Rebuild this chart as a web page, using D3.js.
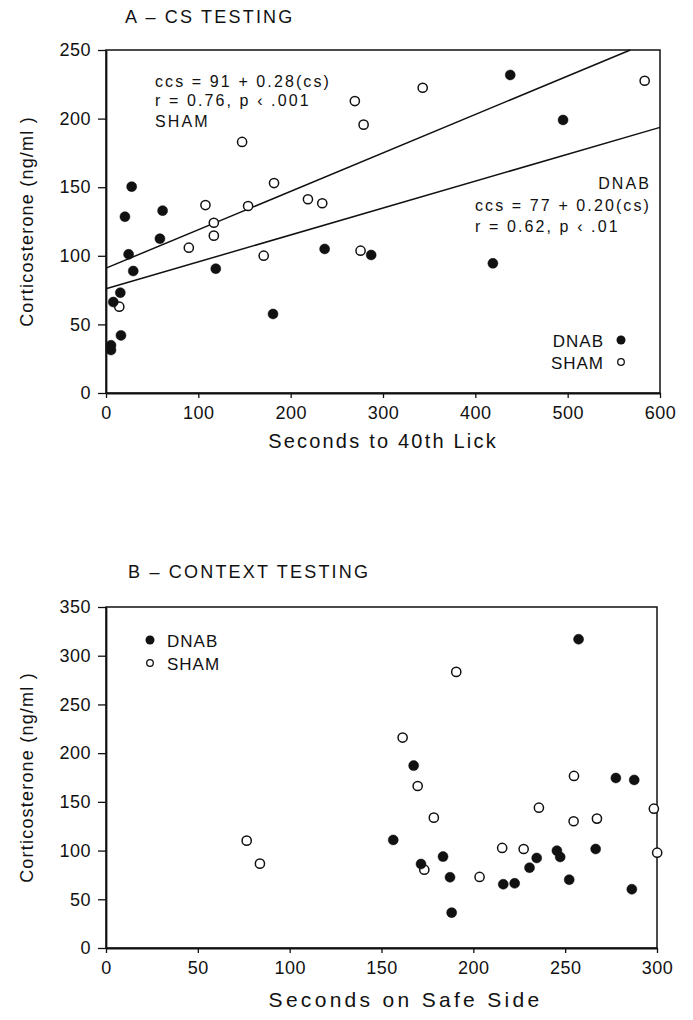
<!DOCTYPE html>
<html>
<head>
<meta charset="utf-8">
<script src="https://cdn.jsdelivr.net/npm/d3@7"></script>
<style>
  body { margin: 0; background: #fff; }
  svg text { font-family: "Liberation Sans", Arial, sans-serif; fill: #111; }
</style>
</head>
<body>
<div id="chart-area"></div>
<script>
/* data */

// A - CS testing: [seconds to 40th lick, corticosterone]
const csDnab = [
  [27.8, 150.4], [61.3, 132.9], [20.5, 128.5], [58.4, 112.5], [24.5, 101.1],
  [29.5, 88.9], [118.9, 90.6], [236.8, 105.0], [287.2, 100.6], [15.5, 73.1],
  [7.9, 66.3], [180.9, 57.6], [16.2, 42.0], [5.4, 34.8], [5.4, 31.3],
  [437.8, 231.8], [495.0, 199.0], [419.0, 94.5]
]
const csSham = [
  [269.5, 212.8], [279.0, 195.6], [147.4, 183.0], [182.0, 153.0], [107.7, 137.0],
  [153.9, 136.3], [218.7, 141.2], [234.2, 138.3], [116.8, 124.1], [116.8, 114.7],
  [89.7, 105.9], [170.8, 100.1], [275.7, 103.7], [14.4, 62.9], [343.0, 222.5],
  [583.4, 227.6]
]
// regression fits [intercept, slope]
const csShamFit = [91, 0.28]
const csDnabFit = [76, 0.196]

// B - context testing: [seconds on safe side, corticosterone]
const ctxDnab = [
  [156.4, 110.9], [257.3, 316.9], [167.5, 187.2], [183.5, 93.8], [171.5, 86.2],
  [187.3, 72.6], [188.2, 36.3], [216.3, 65.4], [222.5, 66.4], [230.6, 82.4],
  [234.5, 92.4], [245.5, 99.9], [247.3, 93.4], [252.2, 70.1], [266.6, 101.6],
  [277.6, 174.5], [287.6, 172.5], [286.3, 60.3]
]
const ctxSham = [
  [76.6, 110.2], [83.8, 86.6], [190.7, 283.4], [161.5, 216.0], [169.7, 166.3],
  [178.5, 133.8], [173.3, 80.4], [203.4, 72.9], [215.7, 102.7], [227.4, 101.6],
  [235.7, 144.0], [254.8, 176.6], [254.6, 130.1], [267.3, 132.8], [298.3, 143.0],
  [300.1, 97.8]
]

const csXTicks = [0, 100, 200, 300, 400, 500, 600]
const csYTicks = [0, 50, 100, 150, 200, 250]
const ctxXTicks = [0, 50, 100, 150, 200, 250, 300]
const ctxYTicks = [0, 50, 100, 150, 200, 250, 300, 350]

/* svg */

const svg = d3.select("#chart-area").append("svg")
  .attr("width", 693)
  .attr("height", 1020)

// draws one framed scatter panel, returns its scales and group
function panel(opts) {
  const x = d3.scaleLinear().domain(opts.xDomain).range([opts.left, opts.right])
  const y = d3.scaleLinear().domain(opts.yDomain).range([opts.bottom, opts.top])
  const g = svg.append("g")

  // frame
  g.append("rect")
    .attr("x", opts.left).attr("y", opts.top)
    .attr("width", opts.right - opts.left)
    .attr("height", opts.bottom - opts.top)
    .attr("fill", "none")
    .attr("stroke", "#111")
    .attr("stroke-width", 1.5)

  const xAxis = g.append("g")
    .attr("transform", `translate(0, ${opts.bottom})`)
    .call(d3.axisBottom(x).tickValues(opts.xTicks).tickSize(5).tickPadding(8).tickSizeOuter(0))
  const yAxis = g.append("g")
    .attr("transform", `translate(${opts.left}, 0)`)
    .call(d3.axisLeft(y).tickValues(opts.yTicks).tickSize(8).tickPadding(7).tickSizeOuter(0))

  ;[xAxis, yAxis].forEach(a => {
    a.select(".domain").attr("stroke", "#111").attr("stroke-width", 1.8)
    a.selectAll(".tick line").attr("stroke", "#111").attr("stroke-width", 1.3)
    a.selectAll(".tick text")
      .style("font-size", "18px")
      .style("letter-spacing", "0.5px")
      .attr("fill", "#111")
  })

  // titles
  g.append("text")
    .attr("x", opts.titleX).attr("y", opts.titleY)
    .style("font-size", "18px")
    .style("letter-spacing", "2.2px")
    .text(opts.title)

  g.append("text")
    .attr("x", (opts.left + opts.right) / 2 + opts.xLabelShift)
    .attr("y", opts.xLabelY)
    .attr("text-anchor", "middle")
    .style("font-size", opts.xLabelSize)
    .style("letter-spacing", opts.xLabelSpacing)
    .text(opts.xLabel)

  g.append("text")
    .attr("transform", `translate(33, ${(opts.top + opts.bottom) / 2}) rotate(-90)`)
    .attr("text-anchor", "middle")
    .style("font-size", "18px")
    .style("letter-spacing", "1.2px")
    .text("Corticosterone (ng/ml )")

  return { x, y, g }
}

function dots(p, data, filled) {
  p.g.append("g").selectAll("circle")
    .data(data)
    .enter().append("circle")
    .attr("cx", d => p.x(d[0]))
    .attr("cy", d => p.y(d[1]))
    .attr("r", filled ? 5 : 4.6)
    .attr("fill", filled ? "#111" : "#fff")
    .attr("stroke", "#111")
    .attr("stroke-width", filled ? 0.5 : 1.5)
}

/* panel A */

const A = panel({
  left: 106, right: 660, top: 50, bottom: 393,
  xDomain: [0, 600], yDomain: [0, 250],
  xTicks: csXTicks, yTicks: csYTicks,
  title: "A \u2013 CS TESTING", titleX: 125, titleY: 23,
  xLabel: "Seconds to 40th Lick", xLabelY: 448, xLabelShift: 0,
  xLabelSize: "20px", xLabelSpacing: "2.2px"
})

// regression lines, clipped at the top of the frame
function fitLine(p, fit, xMax) {
  const x1 = Math.min(xMax, (p.y.domain()[1] - fit[0]) / fit[1])
  p.g.append("path")
    .datum([0, x1])
    .attr("d", d3.line().x(v => p.x(v)).y(v => p.y(fit[0] + fit[1] * v)))
    .attr("fill", "none")
    .attr("stroke", "#111")
    .attr("stroke-width", 1.5)
}
fitLine(A, csShamFit, 600)
fitLine(A, csDnabFit, 600)

dots(A, csSham, false)
dots(A, csDnab, true)

const annA = A.g.append("g").style("font-size", "16px").style("letter-spacing", "2.1px")
annA.append("text").attr("x", 155).attr("y", 87).text("ccs = 91 + 0.28(cs)")
annA.append("text").attr("x", 155).attr("y", 106).text("r = 0.76, p \u2039 .001")
annA.append("text").attr("x", 155).attr("y", 127).text("SHAM")
annA.append("text").attr("x", 651).attr("y", 189).attr("text-anchor", "end").text("DNAB")
annA.append("text").attr("x", 475).attr("y", 211).text("ccs = 77 + 0.20(cs)")
annA.append("text").attr("x", 475).attr("y", 232).text("r = 0.62, p \u2039 .01")

// legend A
const legA = A.g.append("g").style("font-size", "17px").style("letter-spacing", "1px")
legA.append("text").attr("x", 604).attr("y", 347).attr("text-anchor", "end").text("DNAB")
legA.append("text").attr("x", 604).attr("y", 369).attr("text-anchor", "end").text("SHAM")
legA.append("circle").attr("cx", 621).attr("cy", 340).attr("r", 4.5).attr("fill", "#111")
legA.append("circle").attr("cx", 621).attr("cy", 362).attr("r", 3.3)
  .attr("fill", "#fff").attr("stroke", "#111").attr("stroke-width", 1.3)

/* panel B */

const B = panel({
  left: 106, right: 657, top: 607, bottom: 948,
  xDomain: [0, 300], yDomain: [0, 350],
  xTicks: ctxXTicks, yTicks: ctxYTicks,
  title: "B \u2013 CONTEXT TESTING", titleX: 128, titleY: 578,
  xLabel: "Seconds on Safe Side", xLabelY: 1007, xLabelShift: 24,
  xLabelSize: "21px", xLabelSpacing: "3.3px"
})

dots(B, ctxSham, false)
dots(B, ctxDnab, true)

const legB = B.g.append("g").style("font-size", "17px").style("letter-spacing", "1px")
legB.append("circle").attr("cx", 150).attr("cy", 640).attr("r", 4.5).attr("fill", "#111")
legB.append("circle").attr("cx", 150).attr("cy", 663).attr("r", 3.3)
  .attr("fill", "#fff").attr("stroke", "#111").attr("stroke-width", 1.3)
legB.append("text").attr("x", 167).attr("y", 647).text("DNAB")
legB.append("text").attr("x", 167).attr("y", 670).text("SHAM")
</script>
</body>
</html>
